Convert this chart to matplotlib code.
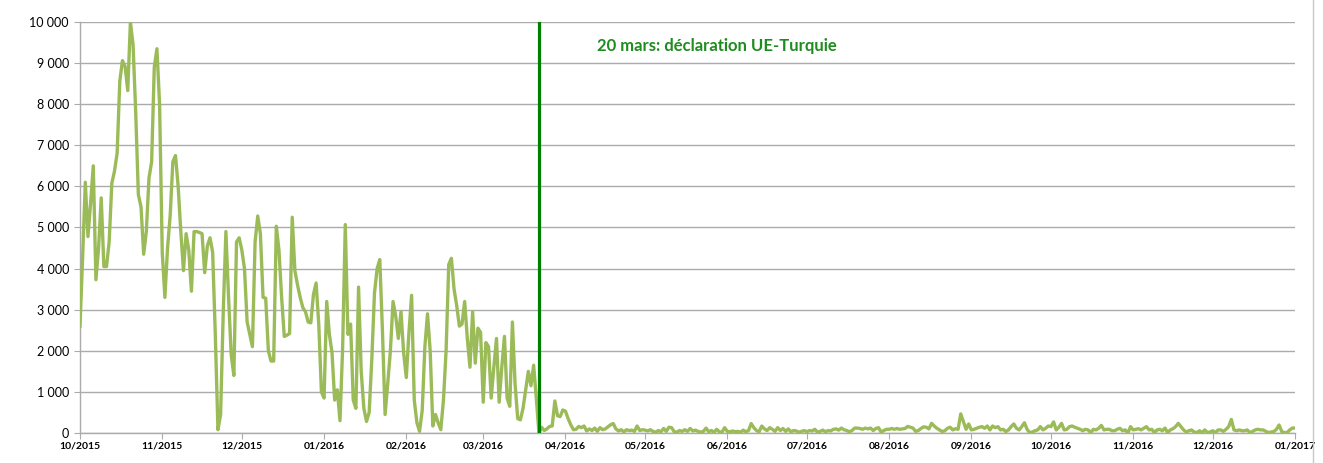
import numpy as np
import pandas as pd
import matplotlib
matplotlib.use("Agg")
import matplotlib.pyplot as plt
import matplotlib.dates as mdates
from matplotlib.lines import Line2D
from matplotlib.ticker import FuncFormatter

# daily arrivals, first day 01/10/2015
START_DATE = "2015-10-01"
EVENT_DATE = "2016-03-22"
EVENT_LABEL = "20 mars: déclaration UE-Turquie"

# before the statement (oct 2015 -> mid march 2016)
arrivals_before = [
    2600, 4300, 6100, 4780, 5600, 6500, 3730, 4500, 5720, 4050,
    4050, 4660, 6080, 6370, 6810, 8560, 9060, 8920, 8330, 10000,
    9450, 7800, 5800, 5500, 4350, 4900, 6200, 6600, 8900, 9350,
    8000, 4400, 3300, 4500, 5300, 6600, 6750, 6000, 4900, 3950,
    4850, 4450, 3450, 4900, 4900, 4880, 4850, 3900, 4550, 4750,
    4400, 2400, 80, 450, 2950, 4900, 3300, 1900, 1400, 4650,
    4750, 4450, 4000, 2700, 2400, 2100, 4650, 5280, 4850, 3300,
    3280, 2000, 1750, 1750, 5030, 4450, 3300, 2350, 2380, 2420,
    5250, 3950, 3600, 3300, 3050, 2950, 2700, 2680, 3370, 3650,
    2650, 1000, 850, 3200, 2400, 1950, 800, 1050, 300, 2070,
    5070, 2400, 2650, 800, 600, 3550, 1500, 600, 280, 500,
    1800, 3400, 4000, 4220, 2500, 450, 1200, 2000, 3200, 2850,
    2300, 2950, 1950, 1350, 2450, 3350, 800, 250, 40, 550,
    2100, 2900, 2000, 170, 450, 250, 80, 800, 2000, 4100,
    4250, 3500, 3100, 2600, 2650, 3200, 2300, 1600, 2950, 1700,
    2550, 2450, 750, 2200, 2100, 850, 1600, 2300, 750, 1600,
    2350, 850, 650, 2700, 1200, 350, 320, 600, 1050, 1500,
    1150, 1650, 850, 0,
]

# after the statement (end march -> mid nov 2016)
arrivals_after_1 = [
    140, 60, 100, 160, 170, 780, 420, 400, 560, 530,
    350, 200, 80, 90, 160, 130, 170, 50, 100, 60,
    120, 40, 130, 80, 100, 150, 200, 230, 100, 50,
    80, 30, 80, 60, 70, 40, 170, 60, 80, 70,
    50, 80, 40, 20, 60, 30, 110, 40, 140, 130,
    30, 20, 60, 40, 80, 40, 110, 50, 70, 40,
    20, 40, 120, 30, 60, 20, 90, 30, 20, 130,
    40, 30, 50, 30, 40, 20, 70, 30, 60, 230,
    130, 60, 30, 170, 100, 60, 130, 90, 40, 130,
    60, 110, 40, 100, 30, 60, 50, 20, 40, 60,
    30, 60, 50, 90, 20, 40, 70, 30, 60, 50,
    90, 100, 70, 120, 80, 60, 30, 60, 120, 120,
    110, 90, 120, 100, 120, 60, 110, 130, 20, 60,
    90, 90, 110, 90, 110, 90, 100, 110, 160, 140,
    120, 40, 60, 110, 150, 140, 100,
]

# mid aug 2016 -> 01/2017
arrivals_after_2 = [
    235, 170, 115, 75, 35, 55, 115, 140, 75, 105,
    90, 465, 275, 90, 220, 75, 90, 115, 140, 155,
    115, 170, 75, 170, 130, 155, 75, 90, 35, 75,
    155, 220, 115, 75, 155, 250, 90, 10, 25, 55,
    75, 155, 75, 115, 170, 155, 270, 75, 140, 235,
    75, 90, 155, 170, 140, 115, 90, 55, 90, 75,
    10, 90, 75, 115, 185, 75, 90, 90, 55, 55,
    90, 115, 55, 75, 0, 155, 75, 90, 105, 75,
    115, 155, 75, 90, 10, 75, 90, 55, 120, 10,
    75, 105, 155, 235, 155, 75, 25, 55, 75, 25,
    10, 55, 10, 75, 10, 25, 55, 10, 75, 75,
    40, 90, 155, 330, 75, 55, 75, 55, 55, 75,
    10, 40, 75, 90, 75, 75, 40, 10, 25, 35,
    90, 195, 35, 10, 10, 75, 120, 120,
]

values = arrivals_before + arrivals_after_1 + arrivals_after_2
dates = pd.date_range(START_DATE, periods=len(values), freq="D")

LINE_COLOR = "#9BBB59"
EVENT_COLOR = "#008000"
GRID_COLOR = "#ABABAB"

plt.rcParams["font.family"] = ["Lato", "DejaVu Sans"]

fig = plt.figure(figsize=(13.23, 4.63), dpi=100)
ax = fig.add_axes([80 / 1323, 1 - 433 / 463, 1215 / 1323, 411 / 463])

ax.plot(dates, values, color=LINE_COLOR, linewidth=2.4, solid_joinstyle="round", zorder=3)

event = pd.Timestamp(EVENT_DATE)
ax.axvline(event, color=EVENT_COLOR, linewidth=2.3, zorder=4)
ax.text(pd.Timestamp("2016-04-13"), 9420, EVENT_LABEL, color="#1E8C1E",
        fontsize=12, fontweight="bold", va="center", ha="left")

ax.set_ylim(0, 10000)
ax.set_xlim(pd.Timestamp("2015-10-01"), pd.Timestamp("2017-01-01"))
ax.set_yticks(np.arange(0, 10001, 1000))
ax.yaxis.set_major_formatter(FuncFormatter(lambda v, p: f"{int(v):,}".replace(",", " ")))
ax.xaxis.set_major_locator(mdates.MonthLocator())
ax.xaxis.set_major_formatter(mdates.DateFormatter("%m/%Y"))

ax.grid(axis="y", color=GRID_COLOR, linewidth=1.0)
ax.set_axisbelow(True)
for s in ["top", "right"]:
    ax.spines[s].set_visible(False)
for s in ["left", "bottom"]:
    ax.spines[s].set_color(GRID_COLOR)
    ax.spines[s].set_linewidth(1.0)

ax.tick_params(axis="y", length=4, color=GRID_COLOR, labelsize=9, pad=4)
ax.tick_params(axis="x", length=4, color=GRID_COLOR, labelsize=7.5, pad=2)
for lbl in ax.get_xticklabels():
    lbl.set_fontweight("bold")

# chart area border on the right
fig.add_artist(Line2D([1313 / 1323, 1313 / 1323], [0, 1], color="#C8C8C8", linewidth=1.0))

fig.savefig("out.png", dpi=100)
